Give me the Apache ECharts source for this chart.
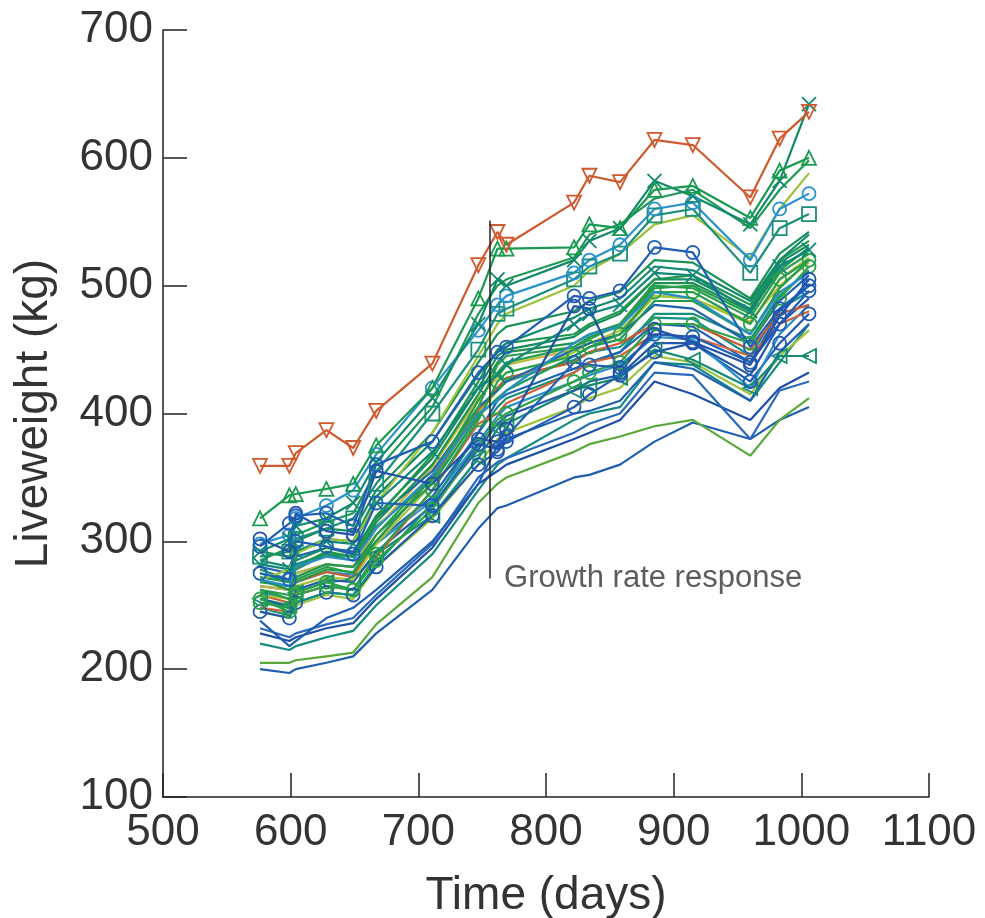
<!DOCTYPE html>
<html>
<head>
<meta charset="utf-8">
<title>Liveweight</title>
<script src="https://cdn.jsdelivr.net/npm/echarts@6/dist/echarts.min.js"></script>
<style>
  html, body { margin: 0; padding: 0; background: #fff; }
  #chart { width: 985px; height: 918px; }
</style>
</head>
<body>
<div id="chart"></div>
<script>
// weighing days (shared by all animals)
const days = [576, 599, 604, 628, 649, 667, 711, 747, 762, 769, 822, 834, 858, 885, 915, 960, 983, 1006];

// liveweight (kg) per animal, one value per weighing day
const wOrange   = [359, 359, 369, 387, 373, 402, 439, 516, 542, 532, 565, 586, 581, 614, 610, 569, 615, 636];
const wGreenTop = [318, 336, 337, 341, 345, 375, 420, 490, 529, 529, 530, 548, 545, 575, 578, 553, 590, 600];
const wTealX    = [292, 302, 312, 318, 330, 362, 412, 470, 505, 500, 520, 535, 545, 582, 570, 548, 582, 642];
const wGreen2   = [285, 295, 305, 315, 322, 355, 405, 478, 500, 505, 522, 540, 548, 568, 575, 545, 575, 598];
const wLtBlue1  = [298, 305, 318, 328, 340, 368, 420, 465, 485, 492, 510, 520, 532, 560, 565, 520, 560, 572];
const wYelGrn1  = [270, 278, 290, 302, 300, 330, 385, 445, 470, 478, 500, 512, 525, 548, 555, 522, 560, 588];
const wTealSq   = [288, 292, 302, 310, 318, 345, 400, 450, 478, 482, 505, 515, 525, 555, 560, 510, 545, 556];
const wBlueC1   = [296, 314, 320, 322, 312, 360, 378, 432, 448, 452, 492, 490, 496, 530, 526, 452, 482, 500];
const wBlueC2   = [275, 270, 300, 296, 290, 330, 328, 376, 372, 382, 440, 438, 436, 462, 460, 440, 470, 496];
const wBlueC3   = [302, 292, 322, 308, 305, 355, 345, 380, 378, 388, 484, 482, 432, 466, 456, 438, 476, 505];
const wGreenC1  = [262, 255, 270, 280, 275, 305, 352, 405, 438, 445, 452, 458, 470, 500, 498, 475, 510, 525];
const wGreen3   = [270, 262, 278, 290, 285, 315, 360, 415, 440, 448, 455, 462, 470, 502, 502, 480, 512, 530];
const wTeal1    = [278, 270, 285, 295, 290, 320, 365, 420, 445, 450, 460, 468, 478, 505, 505, 482, 518, 532];
const wGreenC2  = [252, 248, 260, 268, 262, 290, 340, 395, 425, 432, 445, 452, 462, 495, 495, 470, 505, 520];
const wYellow   = [265, 262, 275, 282, 280, 310, 358, 412, 428, 438, 450, 455, 462, 492, 490, 472, 500, 518];
const wOrange2  = [258, 252, 268, 276, 272, 300, 350, 402, 420, 428, 440, 448, 455, 470, 470, 450, 478, 485];
const wOrange3  = [248, 245, 258, 265, 262, 288, 340, 392, 400, 408, 432, 440, 445, 462, 460, 445, 470, 480];
const wBlue1    = [265, 262, 275, 282, 280, 300, 335, 385, 410, 415, 435, 440, 448, 470, 468, 440, 480, 500];
const wTeal2    = [275, 268, 282, 290, 288, 312, 348, 398, 420, 425, 442, 448, 452, 475, 474, 445, 482, 495];
const wBlue2    = [255, 248, 262, 270, 268, 292, 328, 372, 392, 398, 418, 425, 430, 455, 455, 430, 470, 490];
const wLtBlue2  = [260, 255, 268, 276, 274, 298, 332, 378, 398, 405, 425, 430, 438, 460, 458, 420, 462, 485];
const wBlueC4   = [245, 240, 252, 260, 258, 280, 320, 360, 370, 378, 405, 415, 430, 448, 455, 425, 455, 478];
const wBlue3    = [238, 218, 222, 240, 248, 262, 300, 345, 375, 380, 400, 402, 410, 440, 435, 410, 448, 470];
const wTealTri  = [255, 250, 260, 268, 270, 290, 320, 365, 388, 392, 418, 422, 428, 450, 442, 420, 445, 445];
const wBlue4    = [232, 225, 228, 235, 240, 258, 298, 350, 362, 365, 385, 392, 400, 432, 430, 380, 418, 425];
const wBlueLow  = [200, 197, 200, 205, 210, 228, 262, 310, 326, 328, 350, 352, 360, 378, 393, 380, 395, 405];
const wGreenLow = [205, 205, 207, 210, 213, 235, 272, 330, 345, 350, 370, 376, 382, 390, 395, 367, 395, 412];
const wTeal3    = [220, 215, 218, 225, 230, 250, 290, 340, 360, 365, 395, 400, 405, 440, 438, 410, 440, 470];
const wBlue5    = [228, 222, 225, 232, 236, 255, 295, 345, 355, 360, 380, 385, 395, 425, 415, 395, 420, 432];
const wYelGrn2  = [245, 240, 250, 258, 255, 280, 318, 360, 380, 385, 405, 412, 420, 445, 440, 415, 445, 465];
const wGreenC3  = [255, 245, 258, 265, 262, 285, 325, 375, 395, 400, 425, 432, 440, 470, 470, 455, 490, 515];
const wGreen4   = [268, 265, 272, 282, 280, 305, 345, 398, 412, 418, 445, 452, 458, 488, 488, 462, 498, 520];
const wTealX2   = [282, 278, 292, 300, 298, 330, 370, 420, 430, 438, 470, 478, 485, 510, 508, 480, 515, 528];
const wLtBlue3  = [270, 265, 280, 288, 285, 310, 352, 400, 410, 418, 455, 462, 468, 495, 490, 462, 495, 510];
const wGreen5   = [272, 268, 280, 292, 288, 318, 368, 425, 450, 455, 462, 470, 480, 505, 508, 485, 520, 535];
const wTeal4    = [285, 280, 292, 302, 300, 335, 378, 430, 448, 455, 475, 482, 490, 515, 512, 488, 520, 540];
const wGreen6   = [262, 258, 268, 278, 276, 300, 350, 410, 432, 440, 452, 460, 468, 498, 500, 478, 515, 528];
const wBlue6    = [280, 275, 288, 295, 292, 318, 355, 405, 418, 425, 450, 455, 462, 485, 482, 455, 488, 508];
const wYelGrn3  = [258, 255, 265, 272, 270, 298, 345, 400, 418, 425, 448, 455, 465, 492, 490, 470, 505, 522];
const wTeal5    = [248, 242, 252, 260, 258, 282, 330, 385, 405, 412, 432, 440, 448, 478, 478, 458, 492, 512];
const wGreen7   = [292, 288, 300, 310, 308, 340, 385, 440, 462, 468, 480, 488, 495, 520, 518, 490, 525, 542];

// annotation
const noteText = 'Growth rate response';
const noteDay = 756;
const noteTop = 551;
const noteBottom = 271;

const X_PATH = 'path://M0,0L10,10M10,0L0,10';

// [weights, colour, marker, rotate]
const animals = [
  [wBlueLow,  '#1f5fae', 'none'],
  [wGreenLow, '#5aa83a', 'none'],
  [wTeal3,    '#138b80', 'none'],
  [wBlue5,    '#2050a6', 'none'],
  [wYelGrn2,  '#9cc23a', 'none'],
  [wBlue4,    '#2a6ab8', 'none'],
  [wBlue3,    '#1f60b2', 'none'],
  [wTealTri,  '#168a72', 'triangle', 90],
  [wBlueC4,   '#2058b0', 'circle'],
  [wLtBlue2,  '#2a90c8', 'none'],
  [wBlue2,    '#2358ac', 'none'],
  [wTeal5,    '#15907a', 'none'],
  [wTeal2,    '#159090', 'none'],
  [wBlue1,    '#1f64b4', 'none'],
  [wOrange3,  '#d2623a', 'none'],
  [wOrange2,  '#cc5a30', 'none'],
  [wYellow,   '#c2b83a', 'none'],
  [wYelGrn3,  '#a6c43a', 'none'],
  [wBlue6,    '#1f62b0', 'none'],
  [wGreenC3,  '#2ea24a', 'circle'],
  [wGreenC2,  '#26a04a', 'circle'],
  [wGreen4,   '#1e9a52', 'none'],
  [wGreen6,   '#239c4c', 'none'],
  [wTeal1,    '#168c60', 'none'],
  [wGreen3,   '#1e9050', 'none'],
  [wGreen5,   '#1f984a', 'none'],
  [wGreenC1,  '#2a9d4a', 'none'],
  [wTeal4,    '#128a70', 'none'],
  [wTealX2,   '#12887a', X_PATH],
  [wLtBlue3,  '#2a8cc8', 'none'],
  [wGreen7,   '#1a9256', 'none'],
  [wYelGrn1,  '#9cc23a', 'none'],
  [wTealSq,   '#1a8f7a', 'rect'],
  [wLtBlue1,  '#2a92cc', 'circle'],
  [wGreen2,   '#1e9a55', 'none'],
  [wTealX,    '#128a6a', X_PATH],
  [wGreenTop, '#1a9a50', 'triangle'],
  [wBlueC2,   '#1d5fb4', 'circle'],
  [wBlueC3,   '#2152a8', 'circle'],
  [wBlueC1,   '#1f5fb5', 'circle'],
  [wOrange,   '#cf5a2e', 'triangle', 180]
];

const series = animals.map(function (a, i) {
  return {
    type: 'line',
    name: 'animal ' + (i + 1),
    data: days.map(function (d, k) { return [d, a[0][k]]; }),
    symbol: a[2],
    symbolSize: a[2] === 'circle' ? 13 : 14,
    symbolRotate: a[3] || 0,
    showSymbol: a[2] !== 'none',
    lineStyle: { color: a[1], width: 2.2 },
    itemStyle: { color: 'rgba(0,0,0,0)', borderColor: a[1], borderWidth: 1.8 },
    animation: false,
    silent: true
  };
});

// vertical marker line + text
series.push({
  type: 'line',
  data: [],
  silent: true,
  animation: false,
  markLine: {
    silent: true,
    symbol: 'none',
    label: { show: false },
    lineStyle: { color: '#222', width: 1.5, type: 'solid' },
    data: [[{ coord: [noteDay, noteTop] }, { coord: [noteDay, noteBottom] }]]
  }
});
series.push({
  type: 'scatter',
  data: [[noteDay + 8, noteBottom]],
  symbolSize: 0,
  silent: true,
  animation: false,
  label: {
    show: true,
    position: 'right',
    distance: 4,
    formatter: noteText,
    color: '#333',
    fontSize: 31,
    fontFamily: 'Liberation Sans, Arial, sans-serif'
  }
});

const font = 'Liberation Sans, Arial, sans-serif';
const chart = echarts.init(document.getElementById('chart'));
chart.setOption({
  backgroundColor: '#fff',
  animation: false,
  grid: { left: 163, right: 56, top: 30, bottom: 121, containLabel: false, outerBoundsMode: 'none' },
  xAxis: {
    type: 'value',
    min: 500, max: 1100, interval: 100,
    name: 'Time (days)',
    nameLocation: 'middle',
    nameGap: 76,
    nameTextStyle: { fontSize: 46, color: '#333', fontFamily: font },
    axisLine: { lineStyle: { color: '#222', width: 1.5 } },
    axisTick: { inside: true, length: 24, lineStyle: { color: '#222', width: 1.5 } },
    axisLabel: { fontSize: 44, color: '#333', margin: 14, fontFamily: font, formatter: function (v) { return String(v); } },
    splitLine: { show: false }
  },
  yAxis: {
    type: 'value',
    min: 100, max: 700, interval: 100,
    name: 'Liveweight (kg)',
    nameLocation: 'middle',
    nameGap: 106,
    nameTextStyle: { fontSize: 46, color: '#333', fontFamily: font },
    axisLine: { show: true, lineStyle: { color: '#222', width: 1.5 } },
    axisTick: { show: true, inside: true, length: 24, lineStyle: { color: '#222', width: 1.5 } },
    axisLabel: { fontSize: 44, color: '#333', margin: 10, fontFamily: font, formatter: function (v) { return String(v); } },
    splitLine: { show: false }
  },
  series: series
});
</script>
</body>
</html>
